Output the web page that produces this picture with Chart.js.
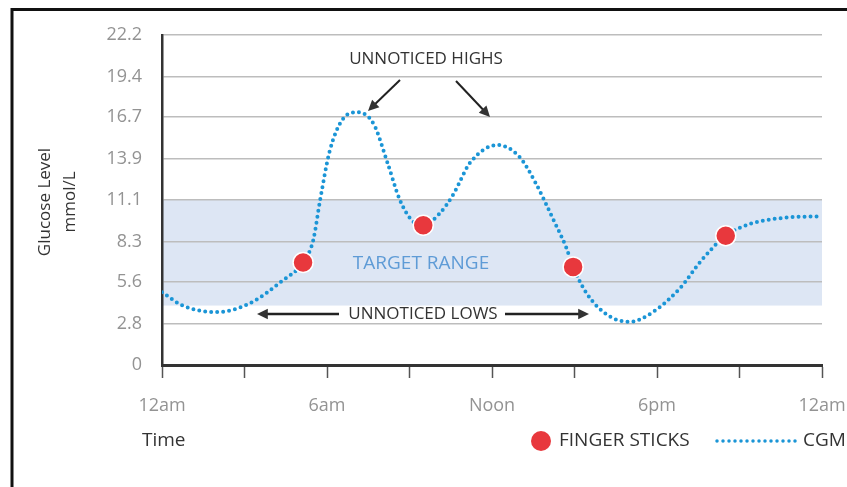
<!DOCTYPE html>
<html>
<head>
<meta charset="utf-8">
<script src="https://cdn.jsdelivr.net/npm/chart.js@4"></script>
<style>
  html, body { margin: 0; padding: 0; background: #fff; overflow: hidden; }
  canvas { display: block; }
</style>
</head>
<body>
<canvas id="glucose" width="847" height="487"></canvas>
<script>
// CGM trace (hours since midnight, mmol/L)
const cgmHours = [0, 0.75, 2, 3.2, 4.4, 5.13, 5.5, 5.75, 6.1, 6.6, 7.1, 7.7, 8.2, 8.65, 9.1, 9.5,
    10.1, 10.6, 11.2, 12.2, 13, 13.6, 14.2, 14.7, 14.95, 15.45, 16.2, 17, 17.85, 18.85, 19.6,
    20.5, 21.4, 22.6, 24];
const cgmValues = [4.9, 4.0, 3.56, 4.16, 5.7, 6.9, 8.4, 11.1, 14.4, 16.6, 17.0, 16.2, 13.6, 11.1, 9.7, 9.4,
    10.2, 11.5, 13.6, 14.8, 14.0, 12.2, 9.9, 7.9, 6.6, 4.8, 3.36, 2.9, 3.56, 5.2, 7.0,
    8.7, 9.5, 9.9, 10.0];

// finger stick readings
const stickHours = [5.13, 9.5, 14.95, 20.5];
const stickValues = [6.9, 9.4, 6.6, 8.7];

const yTicks = [0, 2.8, 5.6, 8.3, 11.1, 13.9, 16.7, 19.4, 22.2];
const xTickLabels = ['12am', '6am', 'Noon', '6pm', '12am'];
const targetRange = [4.0, 11.1];

const FONT = '"Open Sans", sans-serif';
const BLUE = '#1b95d6';
const RED = '#e8383d';

function arrow(ctx, x1, y1, x2, y2, head) {
    const a = Math.atan2(y2 - y1, x2 - x1);
    ctx.beginPath();
    ctx.moveTo(x1, y1);
    ctx.lineTo(x2 - Math.cos(a) * head * 0.8, y2 - Math.sin(a) * head * 0.8);
    ctx.stroke();
    ctx.beginPath();
    ctx.moveTo(x2, y2);
    ctx.lineTo(x2 - head * Math.cos(a - 0.45), y2 - head * Math.sin(a - 0.45));
    ctx.lineTo(x2 - head * Math.cos(a + 0.45), y2 - head * Math.sin(a + 0.45));
    ctx.closePath();
    ctx.fill();
}

// frame + target band, under the grid
const backdrop = {
    id: 'backdrop',
    beforeDraw(chart) {
        const { ctx, chartArea, scales } = chart;
        ctx.save();
        ctx.fillStyle = '#dde6f4';
        const top = scales.y.getPixelForValue(targetRange[1]);
        const bot = scales.y.getPixelForValue(targetRange[0]);
        ctx.fillRect(chartArea.left, top, chartArea.right - chartArea.left, bot - top);

        ctx.strokeStyle = '#111';
        ctx.lineWidth = 3;
        ctx.beginPath();
        ctx.moveTo(12, 490);
        ctx.lineTo(12, 9.5);
        ctx.lineTo(850, 9.5);
        ctx.stroke();
        ctx.restore();
    }
};

// texts, arrows and legend
const notes = {
    id: 'notes',
    afterDraw(chart) {
        const { ctx, scales } = chart;
        const y = scales.y;
        ctx.save();

        // axis titles
        ctx.fillStyle = '#333';
        ctx.font = '17px ' + FONT;
        ctx.textBaseline = 'middle';
        ctx.textAlign = 'center';
        ctx.save();
        ctx.translate(45, 202);
        ctx.rotate(-Math.PI / 2);
        ctx.fillText('Glucose Level', 0, 0);
        ctx.fillText('mmol/L', 0, 25);
        ctx.restore();
        ctx.textAlign = 'left';
        ctx.font = '19px ' + FONT;
        ctx.fillText('Time', 142, 441);

        // legend
        ctx.fillStyle = RED;
        ctx.beginPath();
        ctx.arc(541, 441, 10, 0, Math.PI * 2);
        ctx.fill();
        ctx.fillStyle = '#333';
        ctx.fillText('FINGER STICKS', 559, 441);
        ctx.fillText('CGM', 803, 441);
        ctx.strokeStyle = BLUE;
        ctx.lineWidth = 3.5;
        ctx.lineCap = 'round';
        ctx.setLineDash([0, 6]);
        ctx.beginPath();
        ctx.moveTo(717, 441);
        ctx.lineTo(801, 441);
        ctx.stroke();
        ctx.setLineDash([]);
        ctx.lineCap = 'butt';

        // target range label
        ctx.textAlign = 'center';
        ctx.fillStyle = '#5e9bd6';
        ctx.font = '19px ' + FONT;
        ctx.fillText('TARGET RANGE', 421, y.getPixelForValue(6.8));

        // highs
        ctx.fillStyle = '#333';
        ctx.strokeStyle = '#222';
        ctx.font = '17px ' + FONT;
        ctx.fillText('UNNOTICED HIGHS', 426, 59);
        ctx.lineWidth = 2;
        arrow(ctx, 400, 80, 368, 111, 12);
        arrow(ctx, 456, 81, 490, 117, 12);

        // lows
        const lowY = 314;
        const cx = 423;
        ctx.fillText('UNNOTICED LOWS', cx, lowY);
        ctx.lineWidth = 2.5;
        arrow(ctx, cx - 84, lowY, 257, lowY, 12);
        arrow(ctx, cx + 82, lowY, 589, lowY, 12);
        ctx.restore();
    }
};

const cgmPoints = cgmHours.map((h, i) => ({ x: h, y: cgmValues[i] }));
const stickPoints = stickHours.map((h, i) => ({ x: h, y: stickValues[i] }));

new Chart(document.getElementById('glucose'), {
    type: 'line',
    data: {
        datasets: [
            {
                label: 'FINGER STICKS',
                data: stickPoints,
                showLine: false,
                pointRadius: 10,
                pointHoverRadius: 10,
                pointBackgroundColor: RED,
                pointBorderColor: '#fff',
                pointBorderWidth: 1.5,
                order: 0
            },
            {
                label: 'CGM',
                data: cgmPoints,
                borderColor: BLUE,
                borderWidth: 4,
                borderDash: [0, 6],
                borderCapStyle: 'round',
                borderJoinStyle: 'round',
                cubicInterpolationMode: 'monotone',
                pointRadius: 0,
                fill: false,
                order: 1
            }
        ]
    },
    options: {
        responsive: false,
        animation: false,
        devicePixelRatio: 1,
        layout: { padding: { left: 0, right: 25, top: 35, bottom: 0 } },
        plugins: { legend: { display: false }, tooltip: { enabled: false } },
        scales: {
            x: {
                type: 'linear',
                min: 0,
                max: 24,
                afterFit(axis) {
                    axis.height = 122;
                    axis.paddingLeft = 0;
                    axis.paddingRight = 0;
                },
                border: { color: '#333', width: 3 },
                grid: { drawOnChartArea: false, drawTicks: true, tickLength: 13, tickColor: '#555', tickWidth: 1.5 },
                ticks: {
                    stepSize: 3,
                    autoSkip: false,
                    maxRotation: 0,
                    padding: 17,
                    color: '#939393',
                    font: { family: FONT, size: 18 },
                    callback: v => (v % 6 === 0 ? xTickLabels[v / 6] : '')
                }
            },
            y: {
                min: 0,
                max: 22.2,
                afterFit(axis) { axis.width = 162; },
                afterBuildTicks(axis) { axis.ticks = yTicks.map(v => ({ value: v })); },
                border: { color: '#333', width: 2.5 },
                grid: { color: '#bdbdbd', lineWidth: 1.5, drawTicks: false },
                ticks: {
                    padding: 20,
                    color: '#939393',
                    font: { family: FONT, size: 18 },
                    callback: v => (v === 0 ? '0' : v.toFixed(1))
                }
            }
        }
    },
    plugins: [backdrop, notes]
});
</script>
</body>
</html>
